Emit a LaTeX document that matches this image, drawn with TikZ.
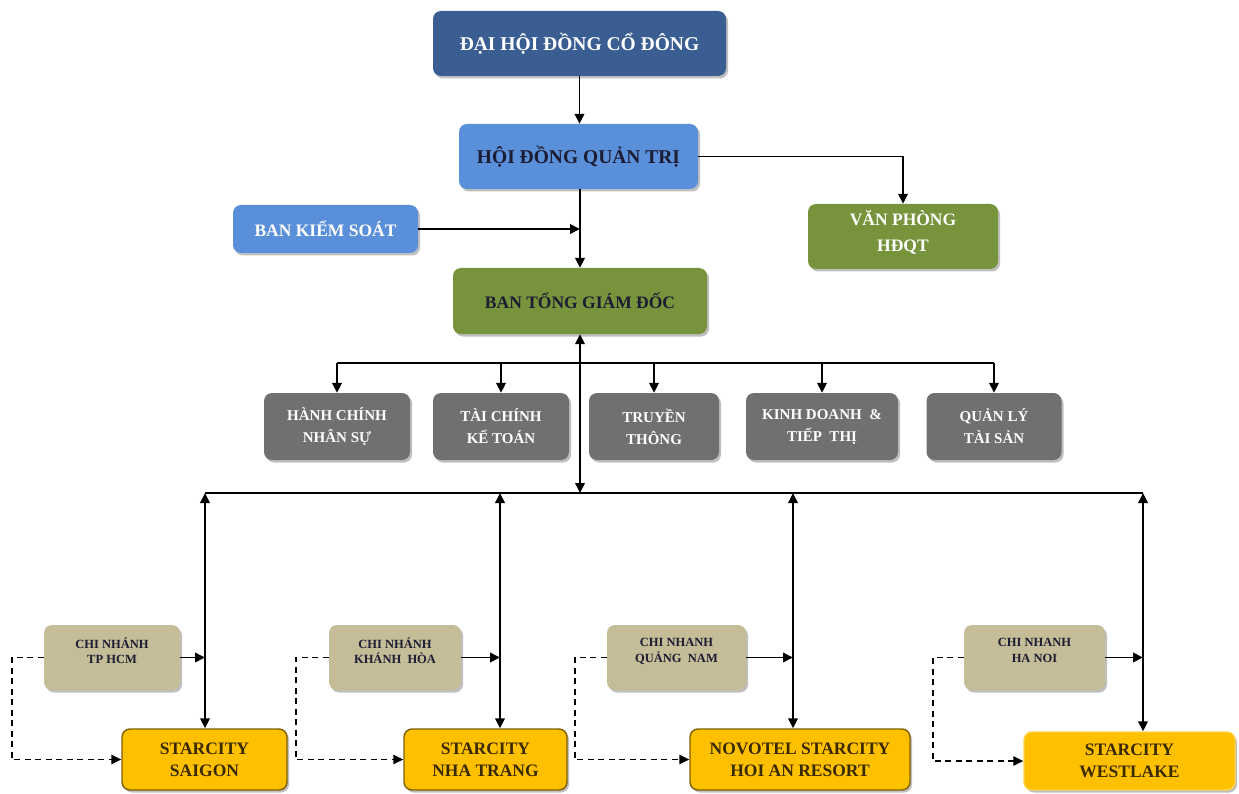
\documentclass[tikz,border=0pt]{standalone}
\usepackage{fontspec}
\setmainfont{Liberation Serif}
\usetikzlibrary{arrows.meta,shadows}
\definecolor{dblue}{HTML}{3A5E91}
\definecolor{lblue}{HTML}{5A8FD9}
\definecolor{olive}{HTML}{77933C}
\definecolor{dgray}{HTML}{707070}
\definecolor{tan}{HTML}{C4BD97}
\definecolor{gold}{HTML}{FFC000}
\definecolor{goldline}{HTML}{7F6000}
\definecolor{navytext}{HTML}{1C1C33}
\definecolor{browntext}{HTML}{3A2A00}
\begin{document}
\begin{tikzpicture}[x=1pt,y=-1pt,
  box/.style={rounded corners=8pt, inner sep=0pt, align=center,
    drop shadow={shadow xshift=2pt, shadow yshift=-2.5pt, opacity=0.45, fill=black!55}},
  big/.style={font=\fontsize{19.5}{24}\selectfont\bfseries},
  mid/.style={font=\fontsize{17.5}{26}\selectfont\bfseries},
  dep/.style={box, fill=dgray, text=white, minimum height=67pt,
    font=\fontsize{15}{22}\selectfont\bfseries},
  br/.style={box, fill=tan, text=navytext, minimum height=65pt, minimum width=#1,
    text depth=14pt, font=\fontsize{12.5}{15.5}\selectfont\bfseries},
  ht/.style={box, fill=gold, draw=goldline, line width=1.4pt, text=browntext,
    minimum height=61pt, minimum width=#1,
    font=\fontsize{17.5}{22}\selectfont\bfseries},
  tip/.tip={Triangle[length=10pt,width=9.5pt]},
  arr/.style={line width=1.9pt, -tip},
  arrb/.style={line width=1.9pt, tip-tip},
  plain/.style={line width=1.9pt},
  dsh/.style={line width=1.4pt, dash pattern=on 6pt off 4.5pt, -tip}
]
\useasboundingbox (0,0) rectangle (1239,794);
\fill[white] (0,0) rectangle (1239,794);

% top level
\node[box, big, fill=dblue, text=white, minimum width=293pt, minimum height=65pt] (dhcd) at (579.5,43.5) {ĐẠI HỘI ĐỒNG CỔ ĐÔNG};
\node[box, big, fill=lblue, text=navytext, minimum width=239pt, minimum height=65pt] (hdqt) at (578.5,156.5) {HỘI ĐỒNG QUẢN TRỊ};
\node[box, mid, fill=lblue, text=white, minimum width=185pt, minimum height=48pt] (bks) at (325.5,229) {BAN KIỂM SOÁT};
\node[box, mid, fill=olive, text=white, minimum width=190pt, minimum height=65pt, text depth=12pt] (vp) at (903,236.5) {VĂN PHÒNG\\HĐQT};
\node[box, mid, fill=olive, text=navytext, minimum width=254pt, minimum height=66pt] (btgd) at (580,301) {BAN TỔNG GIÁM ĐỐC};

% departments
\node[dep, minimum width=146pt] (d1) at (337,426.5) {HÀNH CHÍNH\\NHÂN SỰ};
\node[dep, minimum width=136pt] (d2) at (501,426.5) {TÀI CHÍNH\\KẾ TOÁN};
\node[dep, minimum width=130pt] (d3) at (654,426.5) {TRUYỀN\\THÔNG};
\node[dep, minimum width=152pt] (d4) at (822,426.5) {KINH DOANH \ \&\\TIẾP \ THỊ};
\node[dep, minimum width=135pt] (d5) at (994,426.5) {QUẢN LÝ\\TÀI SẢN};

% branches
\node[br=136pt] (b1) at (112,657.5) {CHI NHÁNH\\TP HCM};
\node[br=132pt] (b2) at (395,657.5) {CHI NHÁNH\\KHÁNH \ HÒA};
\node[br=139pt] (b3) at (676.5,657.5) {CHI NHANH\\QUẢNG \ NAM};
\node[br=141pt] (b4) at (1034.5,657.5) {CHI NHANH\\HA NOI};

% hotels
\node[ht=165pt] (h1) at (204.5,759.5) {STARCITY\\SAIGON};
\node[ht=163pt] (h2) at (485.5,759.5) {STARCITY\\NHA TRANG};
\node[ht=220pt] (h3) at (800,759.5) {NOVOTEL STARCITY\\HOI AN RESORT};
\node[ht=211pt, draw=gold!70!white, minimum height=58pt] (h4) at (1129.5,761) {STARCITY\\WESTLAKE};

% coordinates
\coordinate (bus) at (580,493);
\coordinate (dbar) at (580,363);
\coordinate (v1) at (205,493);
\coordinate (v2) at (500,493);
\coordinate (v3) at (793,493);
\coordinate (v4) at (1143,493);

% top connectors
\draw[arr] (dhcd.south) -- (dhcd.south |- hdqt.north);
\draw[arr] (hdqt.south -| btgd.north) -- (btgd.north);
\draw[arr] (bks.east) -- (bks.east -| btgd.north);
\draw[arr] (hdqt.east) -| (vp.north);
\draw[arrb] (btgd.south) -- (bus);

% department bar
\draw[plain] (d1.north |- dbar) -- (d5.north |- dbar);
\foreach \d in {d1,d2,d3,d4,d5} \draw[arr] (\d.north |- dbar) -- (\d.north);

% bus
\draw[plain] (v1) -- (v4);
\draw[arrb] (v1) -- (v1 |- h1.north);
\draw[arrb] (v2) -- (v2 |- h2.north);
\draw[arrb] (v3) -- (v3 |- h3.north);
\draw[arrb] (v4) -- (v4 |- h4.north);

% branch connectors
\draw[arr] (b1.east) -- (b1.east -| v1);
\draw[arr] (b2.east) -- (b2.east -| v2);
\draw[arr] (b3.east) -- (b3.east -| v3);
\draw[arr] (b4.east) -- (b4.east -| v4);

% dashed links
\draw[dsh] (b1.west) -- ++(-32,0) |- (h1.west);
\draw[dsh] (b2.west) -- ++(-33,0) |- (h2.west);
\draw[dsh] (b3.west) -- ++(-32,0) |- (h3.west);
\draw[dsh] (b4.west) -- ++(-31,0) |- (h4.west);
\end{tikzpicture}
\end{document}
